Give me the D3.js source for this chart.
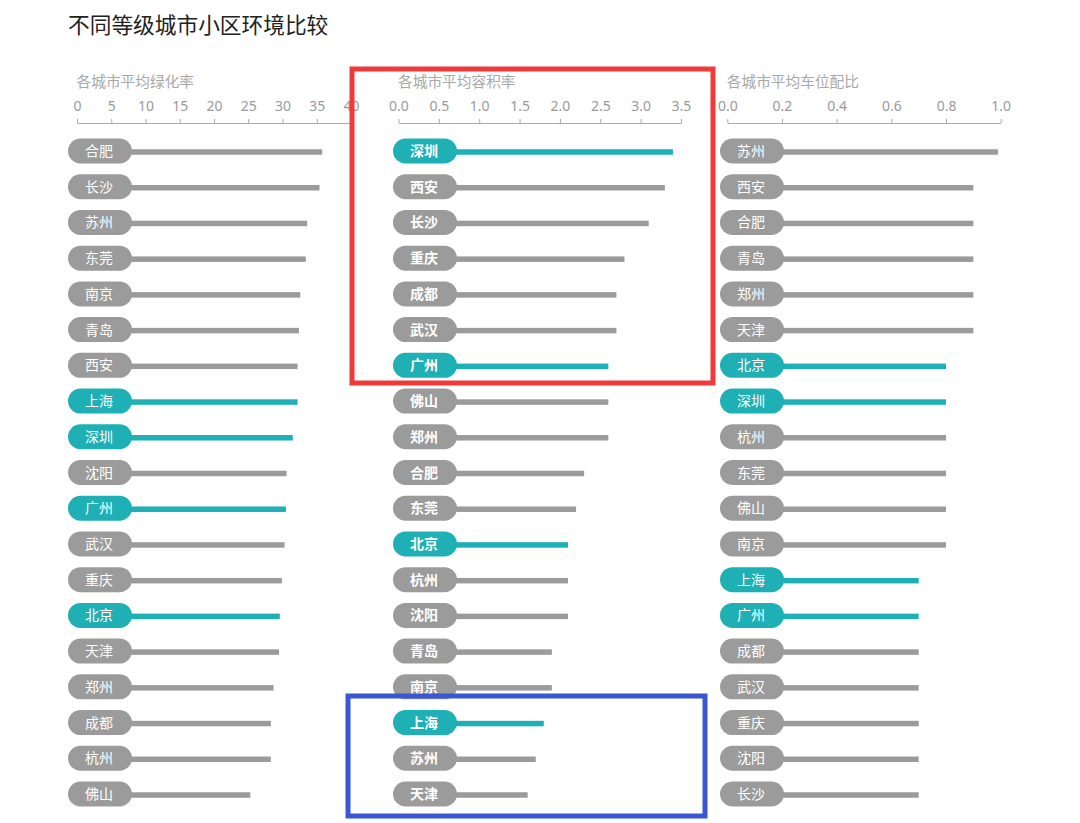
<!DOCTYPE html>
<html><head><meta charset="utf-8">
<script src="https://cdn.jsdelivr.net/npm/d3@7/dist/d3.min.js"></script>
<style>
body{margin:0;background:#fff;}
svg{display:block;font-family:"Noto Sans CJK SC","Noto Sans",sans-serif;}
</style></head>
<body><svg id="chart" width="1080" height="823"></svg>
<script>
// ---- data ----
const title = "不同等级城市小区环境比较";
const highlight = ["上海","深圳","广州","北京"];

const greenTitle = "各城市平均绿化率";
const greenCities = ["合肥","长沙","苏州","东莞","南京","青岛","西安","上海","深圳","沈阳","广州","武汉","重庆","北京","天津","郑州","成都","杭州","佛山"];
const greenValues = [35.8,35.4,33.6,33.4,32.6,32.4,32.2,32.2,31.5,30.6,30.5,30.3,29.9,29.6,29.5,28.7,28.3,28.3,25.3];
const greenTicks = [0,5,10,15,20,25,30,35,40];

const farTitle = "各城市平均容积率";
const farCities = ["深圳","西安","长沙","重庆","成都","武汉","广州","佛山","郑州","合肥","东莞","北京","杭州","沈阳","青岛","南京","上海","苏州","天津"];
const farValues = [3.4,3.3,3.1,2.8,2.7,2.7,2.6,2.6,2.6,2.3,2.2,2.1,2.1,2.1,1.9,1.9,1.8,1.7,1.6];
const farTicks = [0,0.5,1,1.5,2,2.5,3,3.5];

const parkTitle = "各城市平均车位配比";
const parkCities = ["苏州","西安","合肥","青岛","郑州","天津","北京","深圳","杭州","东莞","佛山","南京","上海","广州","成都","武汉","重庆","沈阳","长沙"];
const parkValues = [0.99,0.9,0.9,0.9,0.9,0.9,0.8,0.8,0.8,0.8,0.8,0.8,0.7,0.7,0.7,0.7,0.7,0.7,0.7];
const parkTicks = [0,0.2,0.4,0.6,0.8,1.0];

// ---- layout ----
const TEAL = "#1eb0b5", GRAY = "#9b9b9b";
const panels = [
  {title:greenTitle, cities:greenCities, values:greenValues, ticks:greenTicks, max:40, x0:77, x1:351, pillX:68, fmt:d3.format("d"), bold:false},
  {title:farTitle, cities:farCities, values:farValues, ticks:farTicks, max:3.5, x0:398.5, x1:681, pillX:393, fmt:d3.format(".1f"), bold:true},
  {title:parkTitle, cities:parkCities, values:parkValues, ticks:parkTicks, max:1.0, x0:727.3, x1:1000.7, pillX:720, fmt:d3.format(".1f"), bold:false}
];

const svg = d3.select("#chart");
svg.append("text").attr("x",68).attr("y",33).attr("font-size",21.7).attr("fill","#222").text(title);

const axisY = 123, pillW = 64, pillH = 25;

panels.forEach(p => {
  const g = svg.append("g");
  const x = d3.scaleLinear().domain([0,p.max]).range([p.x0,p.x1]);
  const y = d3.scalePoint().domain(p.cities).range([152,795]);

  g.append("text").attr("x",p.x0 - 0.5).attr("y",87).attr("font-size",14.7).attr("fill","#a8a8a8").text(p.title);

  const ax = g.append("g").attr("transform",`translate(0,${axisY})`)
    .call(d3.axisTop(x).tickValues(p.ticks).tickFormat(p.fmt).tickSize(4).tickSizeOuter(0).tickPadding(8));
  ax.select(".domain").attr("stroke","#aaa");
  ax.selectAll(".tick line").attr("stroke","#aaa");
  ax.selectAll(".tick text").attr("fill","#9a9a9a").attr("font-size",14)
    .attr("font-family","'Noto Sans','Open Sans',sans-serif");

  const rows = g.selectAll(".row").data(p.cities.map((c,i)=>({city:c,value:p.values[i]})))
    .enter().append("g").attr("class","row");
  const col = d => highlight.includes(d.city) ? TEAL : GRAY;

  rows.append("rect")
    .attr("x",x(0)).attr("y",d=>y(d.city)-2.75)
    .attr("width",d=>x(d.value)-x(0)).attr("height",5.5)
    .attr("fill",col);
  rows.append("rect")
    .attr("x",p.pillX).attr("y",d=>y(d.city)-pillH/2-1)
    .attr("width",pillW).attr("height",pillH).attr("rx",pillH/2).attr("ry",pillH/2)
    .attr("fill",col);
  rows.append("text")
    .attr("x",p.pillX+pillW/2-1).attr("y",d=>y(d.city)-1)
    .attr("dy","0.36em").attr("text-anchor","middle")
    .attr("font-size",14).attr("font-weight",p.bold?"bold":"normal")
    .attr("fill","#fff").text(d=>d.city);
});

// annotation boxes
svg.append("rect").attr("x",352).attr("y",69).attr("width",361).attr("height",314)
  .attr("fill","none").attr("stroke","#f03a3a").attr("stroke-width",5);
svg.append("rect").attr("x",348).attr("y",696).attr("width",357).attr("height",120)
  .attr("fill","none").attr("stroke","#3a56d2").attr("stroke-width",5);
</script></body></html>
